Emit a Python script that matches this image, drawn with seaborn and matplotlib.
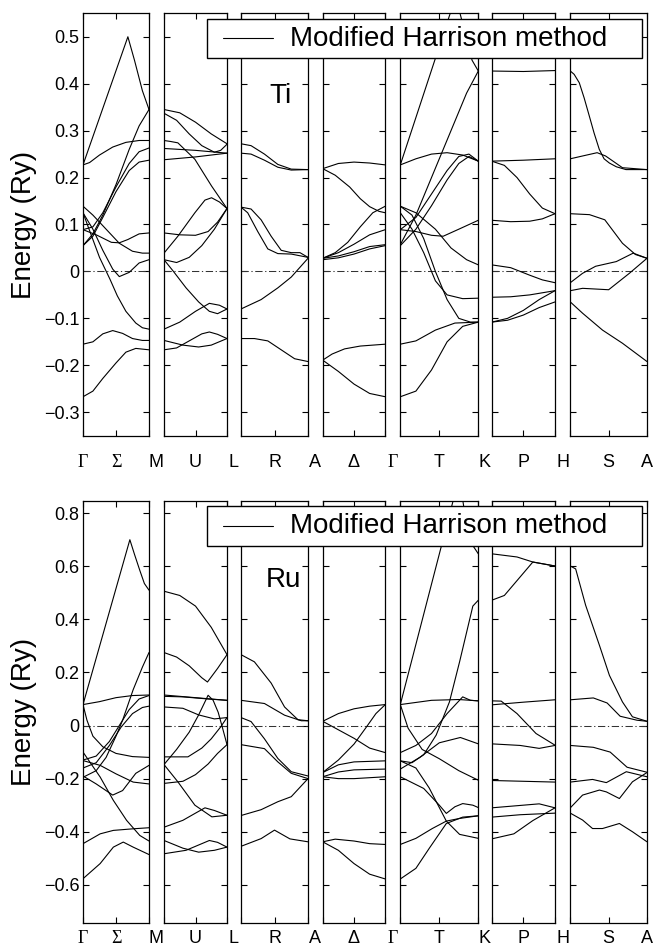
import matplotlib
matplotlib.use("Agg")
import matplotlib.pyplot as plt
import numpy as np
import pandas as pd
import seaborn as sns
from matplotlib.patches import Rectangle
from matplotlib.lines import Line2D

# ---------------------------------------------------------------------------
# Band energies (Ry) along each segment of the hcp path.
# Each band is a list of (k, E) pairs, k running 0 -> 1 along the segment.
# ---------------------------------------------------------------------------

# ----- Ti -----
ti_G_M = [
    [(0, 0.227), (0.68, 0.50), (0.78, 0.45), (0.90, 0.385), (1, 0.345)],
    [(0, 0.227), (0.1, 0.232), (0.25, 0.248), (0.45, 0.265), (0.65, 0.275), (0.85, 0.279), (1, 0.279)],
    [(0, 0.055), (0.15, 0.08), (0.3, 0.12), (0.5, 0.185), (0.7, 0.26), (0.85, 0.31), (1, 0.345)],
    [(0, 0.089), (0.15, 0.095), (0.3, 0.125), (0.5, 0.18), (0.7, 0.23), (0.85, 0.255), (1, 0.263)],
    [(0, 0.055), (0.15, 0.075), (0.3, 0.115), (0.5, 0.17), (0.7, 0.215), (0.85, 0.233), (1, 0.237)],
    [(0, 0.139), (0.15, 0.12), (0.35, 0.09), (0.55, 0.06), (0.75, 0.043), (0.9, 0.039), (1, 0.039)],
    [(0, 0.125), (0.15, 0.09), (0.3, 0.045), (0.45, 0.005), (0.55, -0.011), (0.7, -0.002), (0.85, 0.018), (1, 0.025)],
    [(0, 0.089), (0.2, 0.078), (0.43, 0.062), (0.55, 0.061), (0.68, 0.068), (0.85, 0.08), (1, 0.082)],
    [(0, 0.125), (0.11, 0.083), (0.25, 0.03), (0.41, -0.017), (0.52, -0.052), (0.65, -0.085), (0.8, -0.11), (0.9, -0.12), (1, -0.123)],
    [(0, -0.155), (0.15, -0.15), (0.3, -0.133), (0.45, -0.126), (0.6, -0.132), (0.75, -0.143), (0.9, -0.147), (1, -0.147)],
    [(0, -0.267), (0.15, -0.255), (0.3, -0.228), (0.5, -0.195), (0.65, -0.172), (0.8, -0.164), (1, -0.167)],
]
ti_M_L = [
    [(0, 0.345), (0.25, 0.338), (0.5, 0.318), (0.75, 0.293), (1, 0.272)],
    [(0, 0.337), (0.2, 0.322), (0.4, 0.293), (0.6, 0.268), (0.8, 0.254), (0.9, 0.258), (1, 0.271)],
    [(0, 0.262), (0.5, 0.258), (1, 0.252)],
    [(0, 0.238), (0.5, 0.244), (1, 0.252)],
    [(0, 0.279), (0.1, 0.277), (0.22, 0.274), (0.49, 0.239), (0.755, 0.182), (1, 0.134)],
    [(0, 0.039), (0.22, 0.075), (0.49, 0.125), (0.65, 0.152), (0.755, 0.157), (0.88, 0.148), (1, 0.134)],
    [(0, 0.025), (0.2, 0.019), (0.4, 0.03), (0.6, 0.055), (0.8, 0.09), (1, 0.134)],
    [(0, 0.082), (0.25, 0.078), (0.5, 0.077), (0.7, 0.085), (0.85, 0.105), (1, 0.134)],
    [(0, 0.025), (0.15, 0.0), (0.35, -0.035), (0.55, -0.065), (0.72, -0.085), (0.85, -0.09), (1, -0.08)],
    [(0, -0.123), (0.25, -0.108), (0.5, -0.085), (0.72, -0.068), (0.88, -0.072), (1, -0.08)],
    [(0, -0.147), (0.3, -0.157), (0.55, -0.161), (0.75, -0.157), (1, -0.143)],
    [(0, -0.167), (0.2, -0.163), (0.4, -0.148), (0.6, -0.133), (0.72, -0.129), (0.85, -0.134), (1, -0.143)],
]
ti_L_A = [
    [(0, 0.272), (0.15, 0.268), (0.35, 0.25), (0.55, 0.228), (0.75, 0.218), (1, 0.217)],
    [(0, 0.252), (0.15, 0.25), (0.35, 0.237), (0.55, 0.222), (0.75, 0.216), (1, 0.217)],
    [(0, 0.137), (0.15, 0.133), (0.3, 0.11), (0.45, 0.075), (0.6, 0.045), (0.75, 0.04), (0.88, 0.04), (1, 0.03)],
    [(0, 0.137), (0.1, 0.125), (0.25, 0.085), (0.4, 0.048), (0.55, 0.038), (0.75, 0.037), (1, 0.03)],
    [(0, -0.08), (0.3, -0.06), (0.55, -0.035), (0.75, -0.012), (0.9, 0.012), (1, 0.028)],
    [(0, -0.143), (0.2, -0.143), (0.4, -0.148), (0.6, -0.167), (0.8, -0.186), (1, -0.192)],
]
ti_A_G = [
    [(0, 0.219), (0.25, 0.23), (0.5, 0.233), (0.75, 0.231), (1, 0.227)],
    [(0, 0.219), (0.2, 0.205), (0.43, 0.18), (0.6, 0.155), (0.75, 0.138), (0.9, 0.128), (1, 0.125)],
    [(0, 0.028), (0.2, 0.04), (0.4, 0.062), (0.6, 0.095), (0.8, 0.125), (1, 0.139)],
    [(0, 0.028), (0.25, 0.04), (0.5, 0.058), (0.75, 0.078), (1, 0.089)],
    [(0, 0.028), (0.25, 0.033), (0.5, 0.042), (0.75, 0.053), (1, 0.057)],
    [(0, 0.025), (0.25, 0.029), (0.5, 0.037), (0.75, 0.048), (1, 0.055)],
    [(0, -0.189), (0.15, -0.176), (0.35, -0.165), (0.6, -0.159), (1, -0.155)],
    [(0, -0.189), (0.25, -0.213), (0.5, -0.24), (0.75, -0.26), (1, -0.267)],
]
ti_G_K = [
    [(0, 0.227), (0.66, 0.56)],
    [(0, 0.227), (0.2, 0.24), (0.4, 0.25), (0.6, 0.253), (0.8, 0.248), (1, 0.235)],
    [(0, 0.057), (0.2, 0.12), (0.45, 0.22), (0.7, 0.32), (0.85, 0.38), (1, 0.427)],
    [(0, 0.089), (0.2, 0.115), (0.4, 0.165), (0.6, 0.215), (0.75, 0.245), (0.88, 0.25), (1, 0.235)],
    [(0, 0.055), (0.2, 0.09), (0.4, 0.14), (0.6, 0.195), (0.75, 0.23), (0.88, 0.245), (1, 0.235)],
    [(0, 0.139), (0.2, 0.125), (0.45, 0.09), (0.65, 0.05), (0.85, 0.025), (1, 0.014)],
    [(0, 0.089), (0.2, 0.085), (0.4, 0.077), (0.55, 0.075), (0.75, 0.09), (1, 0.109)],
    [(0, 0.125), (0.15, 0.09), (0.3, 0.04), (0.45, -0.02), (0.6, -0.05), (0.8, -0.058), (1, -0.057)],
    [(0, 0.139), (0.15, 0.12), (0.3, 0.07), (0.45, 0.0), (0.6, -0.06), (0.75, -0.1), (0.9, -0.108), (1, -0.108)],
    [(0, -0.155), (0.2, -0.148), (0.45, -0.125), (0.7, -0.11), (1, -0.108)],
    [(0, -0.267), (0.2, -0.255), (0.4, -0.21), (0.6, -0.15), (0.8, -0.117), (1, -0.108)],
    [(0.75, 0.56), (0.92, 0.45), (1, 0.427)],
]
ti_K_H = [
    [(0, 0.427), (0.5, 0.426), (1, 0.428)],
    [(0, 0.235), (0.5, 0.237), (1, 0.24)],
    [(0, 0.235), (0.2, 0.226), (0.4, 0.2), (0.6, 0.165), (0.8, 0.135), (1, 0.123)],
    [(0, 0.109), (0.3, 0.106), (0.6, 0.107), (0.8, 0.112), (1, 0.123)],
    [(0, 0.014), (0.3, 0.008), (0.6, -0.008), (0.8, -0.018), (1, -0.024)],
    [(0, -0.055), (0.3, -0.054), (0.6, -0.05), (1, -0.041)],
    [(0, -0.108), (0.25, -0.104), (0.5, -0.093), (0.75, -0.077), (1, -0.065)],
    [(0, -0.108), (0.25, -0.1), (0.5, -0.083), (0.75, -0.06), (1, -0.041)],
]
ti_H_A = [
    [(0, 0.427), (0.05, 0.42), (0.117, 0.402), (0.18, 0.37), (0.248, 0.331), (0.31, 0.295), (0.378, 0.26), (0.44, 0.24), (0.509, 0.231), (0.6, 0.223), (0.726, 0.217), (1, 0.217)],
    [(0, 0.24), (0.16, 0.246), (0.35, 0.253), (0.46, 0.246), (0.68, 0.221), (1, 0.217)],
    [(0, 0.123), (0.25, 0.121), (0.45, 0.11), (0.68, 0.06), (0.85, 0.036), (1, 0.028)],
    [(0, -0.024), (0.16, -0.004), (0.33, 0.011), (0.6, 0.021), (0.82, 0.039), (1, 0.028)],
    [(0, -0.041), (0.16, -0.036), (0.5, -0.039), (0.77, -0.004), (1, 0.028)],
    [(0, -0.065), (0.16, -0.089), (0.42, -0.125), (0.68, -0.153), (1, -0.192)],
]

# ----- Ru -----
ru_G_M = [
    [(0, 0.079), (0.71, 0.70), (0.78, 0.645), (0.86, 0.585), (0.93, 0.535), (1, 0.51)],
    [(0, 0.079), (0.25, 0.09), (0.5, 0.105), (0.75, 0.113), (1, 0.115)],
    [(0, -0.195), (0.2, -0.17), (0.35, -0.12), (0.5, -0.04), (0.6, 0.02), (0.76, 0.135), (0.9, 0.22), (1, 0.275)],
    [(0, -0.13), (0.2, -0.115), (0.4, -0.06), (0.55, 0.0), (0.7, 0.06), (0.85, 0.1), (1, 0.113)],
    [(0, -0.16), (0.2, -0.14), (0.4, -0.075), (0.58, -0.005), (0.75, 0.045), (0.9, 0.068), (1, 0.073)],
    [(0, 0.079), (0.06, 0.02), (0.15, -0.04), (0.3, -0.08), (0.5, -0.105), (0.75, -0.117), (1, -0.12)],
    [(0, -0.1), (0.26, -0.194), (0.46, -0.282), (0.66, -0.357), (0.86, -0.414), (1, -0.435)],
    [(0, -0.19), (0.2, -0.22), (0.45, -0.262), (0.6, -0.245), (0.8, -0.18), (1, -0.15)],
    [(0, -0.132), (0.26, -0.15), (0.5, -0.182), (0.76, -0.213), (1, -0.22)],
    [(0, -0.445), (0.26, -0.408), (0.46, -0.395), (0.76, -0.389), (1, -0.385)],
    [(0, -0.577), (0.26, -0.52), (0.46, -0.458), (0.61, -0.439), (0.76, -0.458), (1, -0.486)],
]
ru_M_L = [
    [(0, 0.506), (0.25, 0.49), (0.5, 0.45), (0.75, 0.37), (1, 0.267)],
    [(0, 0.275), (0.2, 0.258), (0.4, 0.225), (0.6, 0.18), (0.69, 0.164), (0.85, 0.215), (1, 0.267)],
    [(0, 0.115), (0.5, 0.105), (1, 0.095)],
    [(0, 0.11), (0.3, 0.108), (0.7, 0.1), (1, 0.095)],
    [(0, 0.07), (0.3, 0.065), (0.55, 0.04), (0.8, 0.025), (1, 0.03)],
    [(0, -0.147), (0.2, -0.09), (0.4, -0.025), (0.55, 0.04), (0.7, 0.114), (0.78, 0.095), (0.86, 0.05), (0.93, -0.01), (1, -0.072)],
    [(0, -0.118), (0.38, -0.118), (0.6, -0.085), (0.75, -0.05), (0.9, -0.005), (1, 0.03)],
    [(0, -0.218), (0.3, -0.21), (0.5, -0.185), (0.7, -0.145), (0.85, -0.105), (1, -0.072)],
    [(0, -0.147), (0.22, -0.212), (0.49, -0.3), (0.76, -0.344), (1, -0.338)],
    [(0, -0.383), (0.3, -0.357), (0.5, -0.33), (0.65, -0.31), (0.8, -0.32), (1, -0.338)],
    [(0, -0.433), (0.3, -0.462), (0.55, -0.477), (0.8, -0.47), (1, -0.458)],
    [(0, -0.483), (0.35, -0.47), (0.6, -0.445), (0.72, -0.433), (0.85, -0.44), (1, -0.458)],
]
ru_L_A = [
    [(0, 0.267), (0.2, 0.24), (0.45, 0.16), (0.65, 0.07), (0.85, 0.022), (1, 0.018)],
    [(0, 0.095), (0.35, 0.083), (0.65, 0.039), (0.9, 0.018), (1, 0.018)],
    [(0, 0.03), (0.15, 0.015), (0.35, -0.05), (0.55, -0.124), (0.75, -0.174), (1, -0.19)],
    [(0, -0.072), (0.35, -0.087), (0.55, -0.137), (0.75, -0.18), (1, -0.2)],
    [(0, -0.339), (0.3, -0.317), (0.55, -0.287), (0.75, -0.268), (1, -0.2)],
    [(0, -0.455), (0.3, -0.426), (0.5, -0.394), (0.73, -0.427), (1, -0.438)],
]
ru_A_G = [
    [(0, 0.016), (0.25, 0.045), (0.5, 0.063), (0.75, 0.073), (1, 0.079)],
    [(0, 0.016), (0.25, -0.016), (0.5, -0.048), (0.75, -0.085), (1, -0.102)],
    [(0, -0.177), (0.25, -0.13), (0.5, -0.07), (0.7, -0.005), (0.85, 0.045), (1, 0.079)],
    [(0, -0.177), (0.25, -0.148), (0.5, -0.137), (1, -0.133)],
    [(0, -0.193), (0.25, -0.175), (0.5, -0.167), (1, -0.164)],
    [(0, -0.193), (0.25, -0.2), (0.5, -0.2), (1, -0.193)],
    [(0, -0.438), (0.2, -0.428), (0.5, -0.435), (0.75, -0.445), (1, -0.448)],
    [(0, -0.438), (0.25, -0.47), (0.5, -0.52), (0.75, -0.56), (1, -0.578)],
]
ru_G_K = [
    [(0, 0.079), (0.68, 0.85)],
    [(0, 0.079), (0.1, -0.01), (0.28, -0.09), (0.5, -0.125), (0.75, -0.17), (1, -0.206)],
    [(0, 0.079), (0.4, 0.095), (0.75, 0.098), (1, 0.093)],
    [(0, -0.133), (0.15, -0.14), (0.3, -0.11), (0.46, -0.036), (0.63, 0.089), (0.76, 0.24), (0.93, 0.45), (1, 0.472)],
    [(0, -0.102), (0.2, -0.075), (0.4, -0.03), (0.6, 0.045), (0.8, 0.108), (0.9, 0.095), (1, 0.093)],
    [(0, -0.164), (0.25, -0.12), (0.5, -0.065), (0.77, -0.045), (1, -0.069)],
    [(0, -0.193), (0.3, -0.237), (0.5, -0.3), (0.59, -0.331), (0.7, -0.306), (0.8, -0.294), (0.93, -0.3), (1, -0.309)],
    [(0, -0.133), (0.2, -0.16), (0.37, -0.235), (0.59, -0.36), (0.76, -0.41), (1, -0.425)],
    [(0, -0.448), (0.2, -0.425), (0.41, -0.388), (0.59, -0.36), (0.76, -0.35), (1, -0.34)],
    [(0, -0.578), (0.2, -0.538), (0.37, -0.463), (0.59, -0.369), (0.8, -0.345), (1, -0.34)],
    [(0.8, 0.85), (0.88, 0.70), (1, 0.647)],
]
ru_K_H = [
    [(0, 0.647), (0.4, 0.635), (0.65, 0.616), (1, 0.601)],
    [(0, 0.472), (0.2, 0.49), (0.45, 0.56), (0.65, 0.616), (1, 0.601)],
    [(0, 0.093), (0.15, 0.092), (0.4, 0.045), (0.7, -0.03), (1, -0.074)],
    [(0, 0.078), (0.5, 0.088), (1, 0.097)],
    [(0, -0.069), (0.45, -0.075), (0.75, -0.086), (1, -0.075)],
    [(0, -0.207), (0.5, -0.21), (1, -0.213)],
    [(0, -0.31), (0.45, -0.301), (0.75, -0.295), (1, -0.31)],
    [(0, -0.345), (0.45, -0.336), (1, -0.33)],
    [(0, -0.427), (0.35, -0.408), (0.65, -0.358), (1, -0.31)],
]
ru_H_A = [
    [(0, 0.601), (0.07, 0.59), (0.2, 0.453), (0.38, 0.302), (0.51, 0.189), (0.68, 0.089), (0.81, 0.033), (1, 0.016)],
    [(0, 0.097), (0.3, 0.104), (0.48, 0.085), (0.65, 0.035), (0.87, 0.02), (1, 0.016)],
    [(0, -0.075), (0.3, -0.082), (0.52, -0.1), (0.74, -0.157), (1, -0.176)],
    [(0, -0.213), (0.29, -0.203), (0.47, -0.215), (0.73, -0.174), (1, -0.193)],
    [(0, -0.31), (0.16, -0.262), (0.38, -0.243), (0.47, -0.25), (0.64, -0.275), (0.81, -0.212), (1, -0.177)],
    [(0, -0.33), (0.16, -0.356), (0.29, -0.388), (0.42, -0.388), (0.64, -0.369), (0.81, -0.4), (1, -0.438)],
]

# Symmetry labels: segment end points and the label in the middle of each segment
point_labels = ["\u0393", "M", "L", "A", "\u0393", "K", "H", "A"]
line_labels = ["\u03a3", "U", "R", "\u0394", "T", "P", "S"]

ti_segments = [ti_G_M, ti_M_L, ti_L_A, ti_A_G, ti_G_K, ti_K_H, ti_H_A]
ru_segments = [ru_G_M, ru_M_L, ru_L_A, ru_A_G, ru_G_K, ru_K_H, ru_H_A]

ti_yticks = [-0.3, -0.2, -0.1, 0, 0.1, 0.2, 0.3, 0.4, 0.5]
ti_ylabels = ["\u22120.3", "\u22120.2", "\u22120.1", "0", "0.1", "0.2", "0.3", "0.4", "0.5"]
ru_yticks = [-0.6, -0.4, -0.2, 0, 0.2, 0.4, 0.6, 0.8]
ru_ylabels = ["\u22120.6", "\u22120.4", "\u22120.2", "0", "0.2", "0.4", "0.6", "0.8"]

# ---------------------------------------------------------------------------
sns.set_theme(style="ticks")
plt.rcParams["font.family"] = ["Liberation Sans", "DejaVu Sans"]
for key in ("text.color", "axes.labelcolor", "xtick.color", "ytick.color",
            "axes.edgecolor"):
    plt.rcParams[key] = "black"

W, H = 657, 946
fig = plt.figure(figsize=(W / 100, H / 100), dpi=100)

# horizontal extents of the seven segment panels (pixels)
panel_x = [(83, 149), (164, 227), (241, 308), (322.7, 385.3),
           (400.3, 478.3), (491.7, 555), (570.3, 647)]

GREEK_SERIF = {"\u0393", "\u03a3"}


def label_font(s):
    if s in GREEK_SERIF:
        return ["Liberation Serif", "DejaVu Serif"]
    return ["Liberation Sans", "DejaVu Sans"]


def draw_crystal(segments, name, y_top, y_bot, ylim, yticks, ylabels,
                 xlab_y, legend_box, name_xy):
    axes = []
    for i, (seg, (x0, x1)) in enumerate(zip(segments, panel_x)):
        ax = fig.add_axes([x0 / W, 1 - y_bot / H, (x1 - x0) / W, (y_bot - y_top) / H])
        rows = [(b, k, e) for b, band in enumerate(seg) for k, e in band]
        df = pd.DataFrame(rows, columns=["band", "k", "E"])
        sns.lineplot(data=df, x="k", y="E", units="band", estimator=None,
                     sort=False, color="black", linewidth=0.8, ax=ax,
                     legend=False)
        ax.axhline(0, color="#333333", linewidth=0.75,
                   linestyle=(0, (7, 2.5, 1.2, 2.5)), zorder=1)
        ax.set_xlim(0, 1)
        ax.set_ylim(*ylim)
        ax.set_xticks([0, 0.5, 1])
        ax.set_xticklabels([])
        ax.set_yticks(yticks)
        if i == 0:
            ax.set_yticklabels(ylabels)
        else:
            ax.set_yticklabels([])
        ax.set_xlabel("")
        ax.set_ylabel("")
        ax.tick_params(direction="in", top=True, right=True, length=4,
                       width=0.8, labelsize=13, pad=2.5, colors="black")
        for sp in ax.spines.values():
            sp.set_linewidth(0.9)
            sp.set_color("black")
        axes.append(ax)

    # symmetry-point labels under the panels
    ypos = 1 - xlab_y / H
    for j, lab in enumerate(point_labels):
        if j == 0:
            xp = panel_x[0][0]
        elif j == len(point_labels) - 1:
            xp = panel_x[-1][1]
        else:
            xp = 0.5 * (panel_x[j - 1][1] + panel_x[j][0])
        fig.text(xp / W, ypos, lab, ha="center", va="center", fontsize=13,
                 family=label_font(lab), color="black")
    for j, lab in enumerate(line_labels):
        xp = 0.5 * (panel_x[j][0] + panel_x[j][1])
        fig.text(xp / W, ypos, lab, ha="center", va="center", fontsize=13,
                 family=label_font(lab), color="black")

    # axis title
    fig.text(24 / W, 1 - 0.5 * (y_top + y_bot) / H, "Energy (Ry)",
             rotation=90, ha="center", va="center", fontsize=20, color="black")

    # legend box
    bx0, by0, bx1, by1 = legend_box
    fig.patches.append(Rectangle((bx0 / W, 1 - by1 / H), (bx1 - bx0) / W,
                                 (by1 - by0) / H, transform=fig.transFigure,
                                 facecolor="white", edgecolor="black",
                                 linewidth=1.0, zorder=10))
    yc = 1 - 0.5 * (by0 + by1) / H
    fig.lines.append(Line2D([(bx0 + 16) / W, (bx0 + 66) / W], [yc, yc],
                            transform=fig.transFigure, color="black",
                            linewidth=0.8, zorder=11))
    fig.text((bx0 + 83) / W, yc, "Modified Harrison method", ha="left",
             va="center", fontsize=20, zorder=12, color="black")

    fig.text(name_xy[0] / W, 1 - name_xy[1] / H, name, ha="center",
             va="center", fontsize=20, color="black")
    return axes


draw_crystal(ti_segments, "Ti", 13.3, 435.7, (-0.35, 0.55), ti_yticks,
             ti_ylabels, 462, (207, 19, 642, 58), (281, 96))
draw_crystal(ru_segments, "Ru", 500.7, 923.3, (-0.745, 0.847), ru_yticks,
             ru_ylabels, 938, (207, 506, 642, 546), (283, 580))

fig.savefig("out.png", dpi=100)
